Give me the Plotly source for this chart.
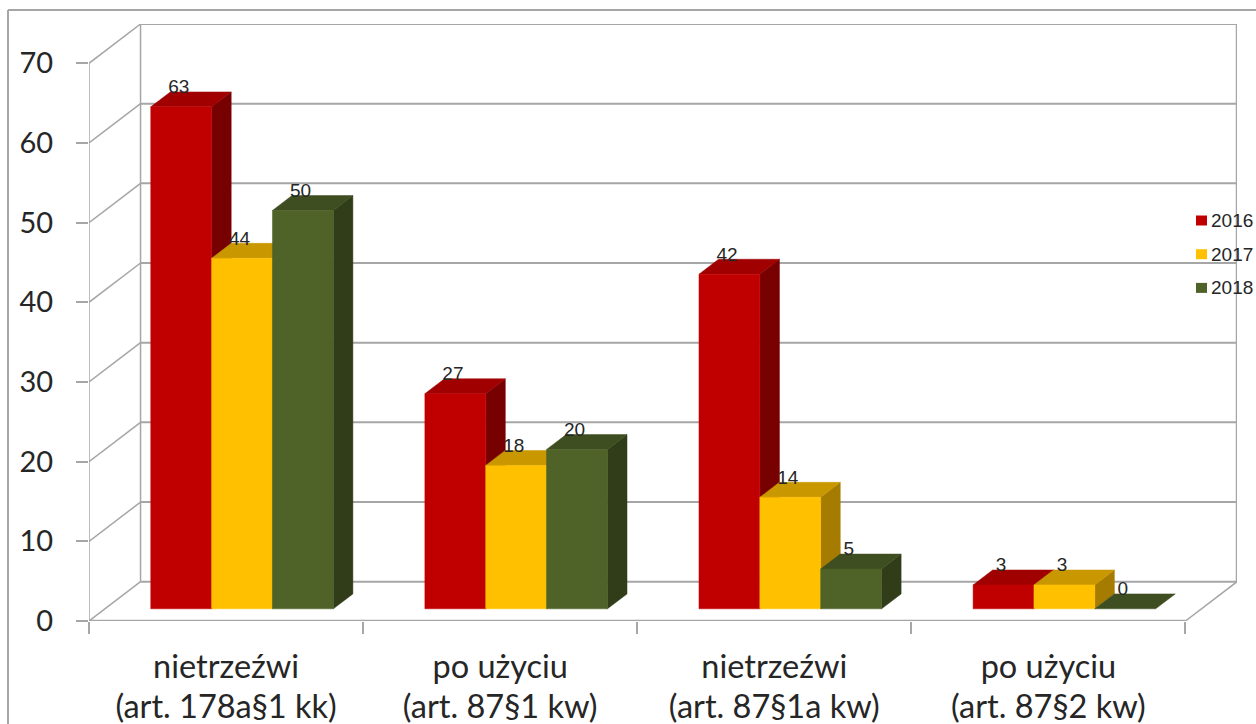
import plotly.graph_objects as go

# dane
categories = ["nietrzeźwi<br>(art. 178a§1 kk)", "po użyciu<br>(art. 87§1 kw)",
              "nietrzeźwi<br>(art. 87§1a kw)", "po użyciu<br>(art. 87§2 kw)"]
years = ["2016", "2017", "2018"]
values_2016 = [63, 27, 42, 3]
values_2017 = [44, 18, 14, 3]
values_2018 = [50, 20, 5, 0]
y_ticks = [0, 10, 20, 30, 40, 50, 60, 70]

series = [values_2016, values_2017, values_2018]
front_colors = ["#C00000", "#FFC000", "#4F6228"]
top_colors = ["#A00000", "#C99700", "#3F4E20"]
side_colors = ["#770000", "#A67C00", "#313D19"]

GRID = "#A6A6A6"
TEXT = "#262626"

# geometria: oś x w kategoriach, oś y w wartościach, głębia 0..1
L, R, T, B = 89, 1237, 24, 621
DEPTH_X = 51.5 / 273.9
DEPTH_Y = 4.93
X_MAX = len(categories) + DEPTH_X
Y_MAX = 70 + DEPTH_Y
BAR_W = 60.8 / 273.9
D0, D1 = 0.31, 0.69


def proj(x, y, d):
    return x + d * DEPTH_X, y + d * DEPTH_Y


def px(x):
    return (x - L) / (R - L)


def py(y):
    return (B - y) / (B - T)


fig = go.Figure()


def line(points, width=1.5, color=GRID):
    xs, ys = zip(*[proj(*p) for p in points])
    fig.add_trace(go.Scatter(x=xs, y=ys, mode="lines", line=dict(color=color, width=width),
                             hoverinfo="skip", showlegend=False))


def face(points, color):
    xs, ys = zip(*[proj(*p) for p in points])
    fig.add_trace(go.Scatter(x=list(xs) + [xs[0]], y=list(ys) + [ys[0]], mode="lines", fill="toself",
                             fillcolor=color, line=dict(color=color, width=0.5),
                             hoverinfo="skip", showlegend=False))


# ściany i siatka
n = len(categories)
line([(0, 70, 0), (0, 0, 0)], 1.5)
line([(0, 70, 1), (0, 0, 1)], 1.5)
line([(n, 70, 1), (n, 0, 1)], 2.5)
line([(n, 0, 0), (n, 0, 1)], 1.5)
line([(0, 0, 0), (n, 0, 0)], 2.5)
for t in y_ticks:
    line([(0, t, 0), (0, t, 1)], 1.5)
    line([(0, t, 1), (n, t, 1)], 2)

# słupki
text_x, text_y, text_s = [], [], []
for c in range(n):
    for s, vals in enumerate(series):
        v = vals[c]
        x0 = c + 0.5 + (s - 1.5) * BAR_W
        x1 = x0 + BAR_W
        if v > 0:
            face([(x1, 0, D0), (x1, 0, D1), (x1, v, D1), (x1, v, D0)], side_colors[s])
        face([(x0, v, D0), (x1, v, D0), (x1, v, D1), (x0, v, D1)], top_colors[s])
        if v > 0:
            face([(x0, 0, D0), (x1, 0, D0), (x1, v, D0), (x0, v, D0)], front_colors[s])
        lx, ly = proj(x0 + 28 / 273.9, v + 2.3, D0)
        text_x.append(lx)
        text_y.append(ly)
        text_s.append(str(v))

LABEL_FONT = dict(family="Liberation Sans", size=19, color=TEXT)
fig.add_trace(go.Scatter(x=text_x, y=text_y, text=text_s, mode="text", textposition="middle center",
                         textfont=LABEL_FONT, hoverinfo="skip", showlegend=False))

# ramka
shapes = [
    dict(type="line", xref="paper", yref="paper", x0=px(8), x1=px(8), y0=py(10), y1=py(724),
         line=dict(color=GRID, width=2)),
    dict(type="line", xref="paper", yref="paper", x0=px(8), x1=px(1256), y0=py(10), y1=py(10),
         line=dict(color=GRID, width=2)),
]
annotations = []
# legenda
for i, year in enumerate(years):
    yc = 220.5 + i * 33.7
    shapes.append(dict(type="rect", xref="paper", yref="paper", x0=px(1196), x1=px(1207),
                       y0=py(yc - 5), y1=py(yc + 5), fillcolor=front_colors[i], line=dict(width=0)))
    annotations.append(dict(xref="paper", yref="paper", x=px(1211), y=py(yc), text=year, showarrow=False,
                            xanchor="left", yanchor="middle", font=LABEL_FONT, xshift=-2))

tick_text = ['<span style="font-size:32.5px">' + c.replace("<br>", '</span><br><span style="font-size:32.5px">') + "</span>"
             for c in categories]

fig.update_layout(
    width=1256, height=724,
    margin=dict(l=L, r=1256 - R, t=T, b=724 - B, pad=0),
    paper_bgcolor="white", plot_bgcolor="white",
    showlegend=False, shapes=shapes, annotations=annotations,
    xaxis=dict(range=[0, X_MAX], showgrid=False, zeroline=False, showline=False, automargin=False,
               tickmode="array", tickvals=[i + 0.5 for i in range(n)], ticktext=tick_text,
               ticks="", ticklabelstandoff=24, tickangle=0,
               tickfont=dict(family="Lato", size=31.5, color=TEXT),
               minor=dict(tickmode="array", tickvals=list(range(n + 1)), ticks="outside", ticklen=12,
                          tickwidth=1.5, tickcolor=GRID, showgrid=False)),
    yaxis=dict(range=[0, Y_MAX], showgrid=False, zeroline=False, showline=False, automargin=False,
               tickmode="array", tickvals=y_ticks, ticks="outside", ticklen=12, tickwidth=1.5,
               tickcolor=GRID, ticklabelstandoff=17,
               tickfont=dict(family="Lato", size=29, color=TEXT)),
)

fig.write_html("out.html", config=dict(displayModeBar=False), post_script="document.body.style.margin='0';")
